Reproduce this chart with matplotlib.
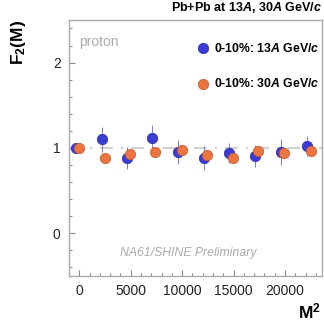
import matplotlib.pyplot as plt
from matplotlib.ticker import MultipleLocator

plt.rcParams['font.family'] = ['Liberation Sans', 'DejaVu Sans']
plt.rcParams['mathtext.fontset'] = 'custom'
plt.rcParams['mathtext.rm'] = 'Liberation Sans:bold'
plt.rcParams['mathtext.it'] = 'Liberation Sans:bold:italic'
plt.rcParams['mathtext.bf'] = 'Liberation Sans:bold'

# 0-10%, 13A GeV/c (slightly shifted left in the original)
m2_13 = [-300, 2200, 4600, 7100, 9600, 12100, 14600, 17100, 19600, 22100]
f2_13 = [1.00, 1.10, 0.88, 1.12, 0.95, 0.88, 0.94, 0.91, 0.95, 1.02]
err_13 = [0.03, 0.15, 0.13, 0.15, 0.14, 0.14, 0.12, 0.13, 0.15, 0.12]

# 0-10%, 30A GeV/c
m2_30 = [0, 2500, 4900, 7400, 10000, 12400, 14900, 17400, 19900, 22500]
f2_30 = [1.00, 0.88, 0.93, 0.95, 0.98, 0.92, 0.88, 0.96, 0.94, 0.96]
err_30 = [0.02, 0.03, 0.04, 0.04, 0.05, 0.04, 0.05, 0.05, 0.04, 0.05]

blue = '#3b3bd6'
orange = '#ec7440'
ms = 7.5

fig = plt.figure(figsize=(3.24, 3.22), dpi=100)
ax = fig.add_axes([0.213, 0.143, 0.781, 0.795])

ax.axhline(1, color='#d0d0d0', lw=1.5, ls=(0, (6, 4, 1, 4)), zorder=1)

ax.errorbar(m2_13, f2_13, yerr=err_13, fmt='o', ms=ms, color=blue,
            mec='#2a2aa0', mew=0.5, ecolor='#7a7aea', elinewidth=0.7,
            zorder=3)
ax.errorbar(m2_30, f2_30, yerr=err_30, fmt='o', ms=ms, color=orange,
            mec='#c25a2a', mew=0.5, ecolor='#f0a07a', elinewidth=0.7,
            zorder=4)

ax.set_xlim(-1000, 23600)
ax.set_ylim(-0.5, 2.5)
ax.xaxis.set_major_locator(MultipleLocator(5000))
ax.xaxis.set_minor_locator(MultipleLocator(1000))
ax.yaxis.set_major_locator(MultipleLocator(1))
ax.yaxis.set_minor_locator(MultipleLocator(0.2))
ax.tick_params(which='both', direction='in', color='#888888',
               labelsize=10, labelcolor='#222222')
ax.tick_params(which='major', length=4, width=0.8)
ax.tick_params(which='minor', length=2, width=0.8)
ax.tick_params(axis='x', pad=6)
ax.tick_params(axis='y', pad=6)
for sp in ax.spines.values():
    sp.set_color('#aaaaaa')
    sp.set_linewidth(1.0)

fig.text(0.058, 0.94, r'$\mathrm{F_2(M)}$', rotation=90, ha='center',
         va='top', fontsize=12.5)
fig.text(0.99, 0.003, r'$\mathrm{M^2}$', ha='right', va='bottom',
         fontsize=12.5)
fig.text(0.994, 0.952, r'Pb+Pb at 13$\it{A}$, 30$\it{A}$ GeV/$\it{c}$',
         ha='right', va='bottom', fontsize=9, fontweight='bold')

ax.text(0.04, 0.915, 'proton', transform=ax.transAxes, color='#aaaaaa',
        fontsize=10, va='center')
ax.plot([0.53], [0.89], 'o', transform=ax.transAxes, ms=ms, color=blue,
        mec='#2a2aa0', mew=0.5, clip_on=False)
ax.plot([0.53], [0.75], 'o', transform=ax.transAxes, ms=ms, color=orange,
        mec='#c25a2a', mew=0.5, clip_on=False)
ax.text(0.573, 0.89, r'0-10%: 13$\it{A}$ GeV/$\it{c}$',
        transform=ax.transAxes, fontsize=8.8, fontweight='bold',
        va='center')
ax.text(0.573, 0.75, r'0-10%: 30$\it{A}$ GeV/$\it{c}$',
        transform=ax.transAxes, fontsize=8.8, fontweight='bold',
        va='center')
ax.text(0.47, 0.09, 'NA61/SHINE Preliminary', transform=ax.transAxes,
        color='#aaaaaa', fontsize=8.8, style='italic', ha='center',
        va='center')

fig.savefig('out.png', dpi=100)
